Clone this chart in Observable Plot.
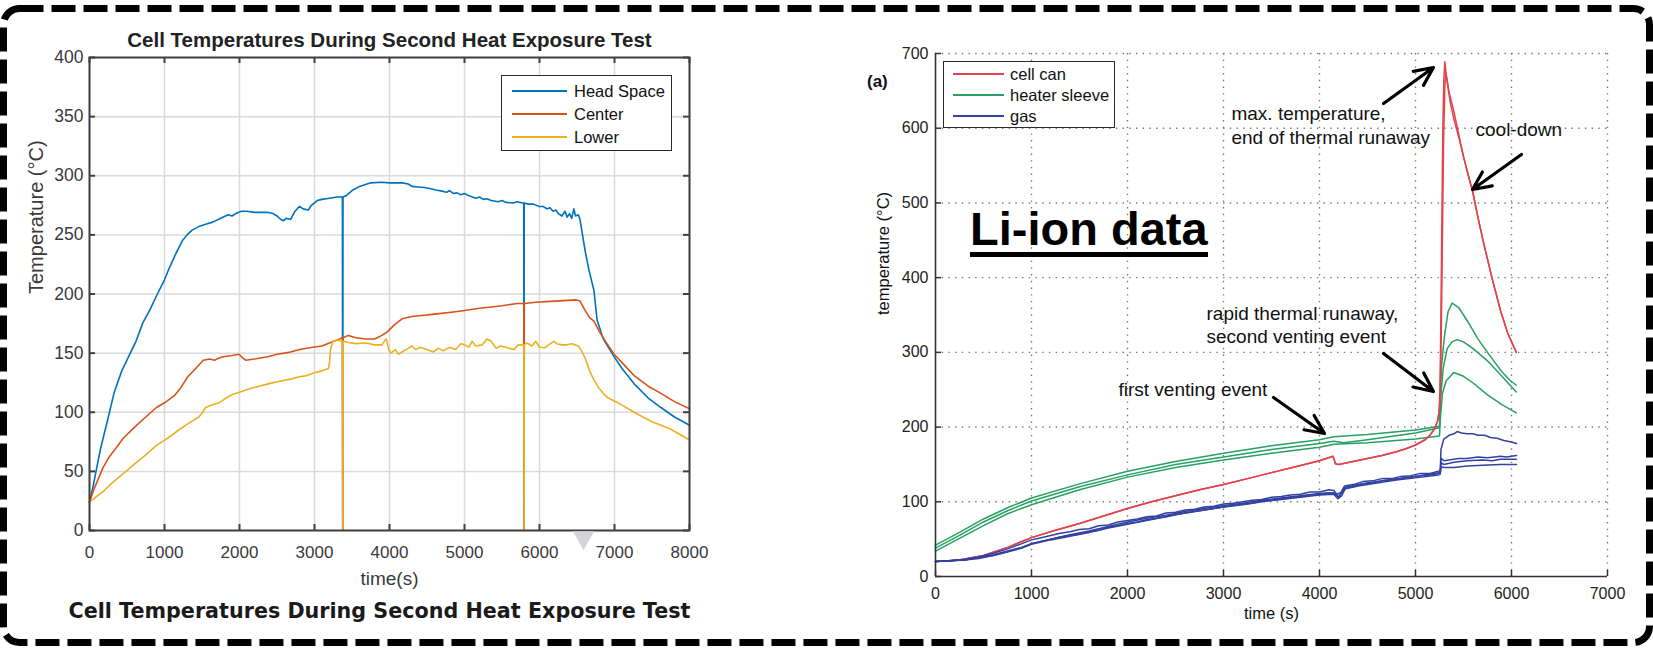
<!DOCTYPE html>
<html><head><meta charset="utf-8">
<script src="https://cdn.jsdelivr.net/npm/d3@7"></script>
<script src="https://cdn.jsdelivr.net/npm/@observablehq/plot@0.6"></script>
<style>
html,body{margin:0;padding:0;background:#fff;}
#wrap{position:relative;width:1653px;height:650px;overflow:hidden;background:#fff;font-family:"Liberation Sans",Arial,sans-serif;}
#wrap > *{position:absolute;}
.legend{background:#fff;box-sizing:border-box;}
.legend .sw{position:absolute;height:0;}
.legend .lb{position:absolute;white-space:nowrap;transform:translateY(-50%);line-height:1;}
</style></head>
<body><div id="wrap"></div>
<script>
// ---------------- LEFT CHART DATA ----------------
const leftTitle = "Cell Temperatures During Second Heat Exposure Test";
const leftCaption = "Cell Temperatures During Second Heat Exposure Test";
const leftXLabel = "time(s)";
const leftYLabel = "Temperature (°C)";
const xTicksL = [0,1000,2000,3000,4000,5000,6000,7000,8000];
const yTicksL = [0,50,100,150,200,250,300,350,400];
const leftNames = ["Head Space","Center","Lower"];
const leftColors = ["#0072BD","#D95319","#EDB120"];
const cursorMarkT = [6587];

const headSpace = [[0,24],[50,38],[90,51],[150,70],[240,93],[330,117],[430,135],[536,149],[620,160],[714,176],[800,186],[905,200],[1000,212],[1071,223],[1150,234],[1238,245],[1300,250],[1369,254],[1458,257],[1550,259],[1650,261],[1750,264],[1850,267],[1900,266],[1950,268],[2024,270],[2100,270],[2200,269],[2300,269],[2381,269],[2450,268],[2500,266],[2550,263],[2589,262],[2620,264],[2680,263],[2740,270],[2798,274],[2850,272],[2917,271],[2960,275],[3036,279],[3100,280],[3200,281],[3300,282],[3363,282],[3372,282],[3376,0],[3380,282],[3420,283],[3512,288],[3600,291],[3750,294],[3900,294.5],[4000,294],[4167,294],[4250,293],[4300,291],[4380,290.5],[4464,290],[4550,289],[4620,288],[4700,287],[4762,286],[4800,287.5],[4850,285],[4900,285.5],[4950,284],[5000,285],[5060,283],[5150,281],[5200,282],[5250,280],[5300,280.5],[5357,279],[5450,278],[5500,279],[5550,277.5],[5650,277],[5700,278],[5774,277],[5790,277],[5793,0],[5796,277],[5850,276],[5920,276],[5998,274],[6050,274],[6100,272],[6140,273],[6180,270],[6220,271],[6250,268],[6300,266],[6340,270],[6369,265],[6400,268],[6430,264],[6458,272],[6480,266],[6518,267],[6540,263],[6560,255],[6607,237],[6660,220],[6726,203],[6768,178],[6850,162],[6994,147],[7100,137],[7262,124],[7450,112],[7619,104],[7800,96],[8000,89]];
const center = [[0,24],[60,35],[179,53],[260,62],[357,70],[450,78],[595,87],[750,96],[893,104],[1000,108],[1131,114],[1220,121],[1310,130],[1400,136],[1518,144],[1600,145],[1667,144],[1730,146],[1786,147],[1900,148],[1994,149],[2040,146],[2083,144],[2200,145],[2381,147],[2500,149],[2600,150],[2679,151],[2800,153],[2976,155],[3100,156],[3214,159],[3300,161],[3370,163],[3374,163],[3377,0],[3381,163],[3452,165],[3550,163],[3690,162],[3800,162],[3869,164],[3950,167],[3988,169],[4050,173],[4107,176],[4167,179],[4300,181],[4464,182],[4600,183],[4881,185],[5000,186],[5200,188],[5357,189],[5500,190],[5700,192],[5774,192],[5791,192],[5794,0],[5797,192],[5952,193],[6200,194],[6488,195],[6540,194],[6600,187],[6667,180],[6726,177],[6800,168],[6900,158],[6994,149],[7100,142],[7262,131],[7450,122],[7619,116],[7800,109],[8000,103]];
const lower = [[0,24],[100,29],[200,34],[298,40],[450,48],[595,56],[750,64],[893,72],[1040,78],[1190,85],[1330,91],[1458,96],[1510,100],[1548,104],[1620,106],[1726,108],[1820,112],[1905,115],[2000,117],[2143,120],[2260,122],[2381,124],[2520,126],[2679,128],[2800,130],[2900,131],[2976,133],[3100,135],[3185,137],[3200,142],[3214,153],[3244,160],[3300,161],[3373,160],[3375,160],[3378,0],[3383,160],[3450,159],[3550,158],[3690,158.6],[3800,157],[3899,157],[3940,161],[3958,162],[3990,153],[4018,150],[4080,153],[4120,149],[4167,151],[4250,154],[4300,156],[4350,153],[4405,155],[4500,153],[4583,151],[4650,154],[4720,152],[4800,155],[4881,153],[4950,158],[5000,157],[5060,155],[5100,160],[5150,156],[5238,157],[5300,162],[5357,160],[5420,154],[5476,156],[5550,155],[5655,153],[5720,157],[5792,157],[5795,0],[5798,157],[5833,158.6],[5900,156],[5950,160],[6000,155],[6071,154.5],[6120,157],[6190,160],[6230,158],[6300,157],[6369,157],[6430,158],[6518,156],[6560,152],[6607,146],[6667,135],[6720,128],[6786,121],[6850,116],[6905,112.6],[6950,111],[7024,108.6],[7100,106],[7262,100],[7380,96],[7500,92],[7620,89],[7738,86],[7880,81],[8000,76.5]];

// ---------------- RIGHT CHART DATA ----------------
const rightXLabel = "time (s)";
const rightYLabel = "temperature (°C)";
const panelTag = "(a)";
const overlayText = "Li-ion data";
const xTicksR = [0,1000,2000,3000,4000,5000,6000,7000];
const yTicksR = [0,100,200,300,400,500,600,700];
const rightGroups = ["cell can","heater sleeve","gas"];
const rightColors = ["#e4434b","#27a062","#3341a0"];

const cellCan1 = [[0,20],[250,22],[500,28],[750,39],[1000,52],[1250,62],[1500,71],[1750,81],[2000,91],[2250,100],[2500,108],[2750,116],[3000,123],[3250,131],[3500,139],[3750,147],[4000,155],[4140,161],[4150,158],[4165,151],[4200,150],[4350,154],[4500,158],[4650,162],[4800,167],[4900,171],[5000,176],[5100,183],[5150,189],[5200,198],[5230,208],[5245,220],[5255,250],[5265,350],[5275,480],[5285,600],[5295,665],[5306,689],[5320,672],[5350,648],[5400,622],[5450,592],[5500,562],[5550,537],[5594,516],[5650,481],[5712,445],[5800,398],[5885,356],[5960,326],[6050,300]];
const cellCan2 = [[0,20],[250,22],[500,28],[750,39],[1000,52],[1250,62],[1500,71],[1750,81],[2000,91],[2250,100],[2500,108],[2750,116],[3000,123],[3250,131],[3500,139],[3750,147],[4000,155],[4140,161],[4150,158],[4165,151],[4200,150],[4350,154],[4500,158],[4650,162],[4800,167],[4900,171],[5000,176],[5100,183],[5150,189],[5200,198],[5230,208],[5245,220],[5255,232],[5268,320],[5280,450],[5292,580],[5305,655],[5316,674],[5330,662],[5360,636],[5400,612],[5450,588],[5500,562],[5550,537],[5594,516],[5650,481],[5712,445],[5800,398],[5885,356],[5960,326],[6050,300]];
const heater1 = [[0,42],[250,59],[500,77],[750,92],[1000,105],[1500,124],[2000,141],[2500,154],[3000,165],[3500,175],[4000,183],[4150,187],[4500,190],[5000,196],[5250,201],[5258,230],[5270,280],[5300,320],[5340,355],[5382,366],[5450,360],[5550,340],[5650,318],[5750,300],[5813,289],[5900,274],[5980,263],[6050,256]];
const heater2 = [[0,38],[250,55],[500,73],[750,88],[1000,101],[1500,120],[2000,136],[2500,150],[3000,160],[3500,170],[4000,178],[4150,181],[4250,179],[4500,183],[5000,192],[5250,199],[5262,240],[5290,280],[5330,305],[5380,314],[5434,317],[5500,314],[5600,305],[5747,289],[5900,268],[6050,247]];
const heater3 = [[0,34],[250,51],[500,68],[750,84],[1000,96],[1500,116],[2000,133],[2500,146],[3000,156],[3500,165],[4000,173],[4150,177],[4500,179],[5000,184],[5250,188],[5258,210],[5280,245],[5320,262],[5399,273],[5500,268],[5600,259],[5750,243],[5900,230],[6050,219]];
const gas1 = [[0,20],[150,21],[300,23],[450,26],[600,31],[750,37],[900,44],[1000,49],[1100,52],[1200,55],[1300,58],[1400,60],[1500,63],[1600,64],[1700,68],[1800,69],[1900,73],[2000,75],[2100,77],[2200,80],[2300,81],[2400,85],[2500,86],[2600,89],[2700,90],[2800,93],[2900,94],[3000,97],[3100,98],[3200,100],[3300,102],[3400,103],[3500,106],[3600,107],[3700,109],[3800,110],[3900,113],[4000,113],[4100,116],[4150,115],[4180,110],[4220,112],[4260,121],[4350,123],[4450,127],[4550,128],[4650,131],[4750,131],[4850,134],[4950,135],[5050,138],[5150,138],[5240,141],[5258,142],[5265,170],[5295,184],[5350,189],[5400,191],[5434,194],[5480,192],[5538,191],[5600,191],[5650,189],[5720,189],[5781,186],[5850,185],[5920,182],[6000,180],[6052,178]];
const gas2 = [[0,20],[150,21],[300,22],[450,24],[600,28],[750,33],[900,39],[1000,44],[1100,47],[1200,50],[1300,53],[1400,55],[1500,57],[1600,60],[1700,62],[1800,66],[1900,68],[2000,71],[2100,73],[2200,76],[2300,78],[2400,80],[2500,83],[2600,85],[2700,87],[2800,89],[2900,91],[3000,93],[3100,95],[3200,97],[3300,98],[3400,101],[3500,102],[3600,104],[3700,106],[3800,107],[3900,109],[4000,110],[4100,112],[4150,110],[4190,104],[4230,108],[4270,118],[4350,120],[4450,124],[4550,125],[4650,128],[4750,129],[4850,131],[4950,133],[5050,135],[5150,136],[5240,138],[5258,139],[5266,158],[5295,155],[5350,156],[5450,158],[5538,158],[5650,160],[5750,159],[5885,161],[5950,160],[6052,162]];
const gas3 = [[0,20],[300,22],[600,29],[900,39],[1000,44],[1200,50],[1400,56],[1600,61],[1800,67],[2000,73],[2200,78],[2400,82],[2600,87],[2800,91],[3000,95],[3200,98],[3400,102],[3600,105],[3800,108],[4000,111],[4150,112],[4200,106],[4260,119],[4400,123],[4600,127],[4800,131],[5000,134],[5240,139],[5258,140],[5266,152],[5295,150],[5400,153],[5538,155],[5700,156],[5800,155],[5885,157],[6052,157]];
const gas4 = [[0,20],[300,22],[600,28],[900,38],[1000,43],[1200,49],[1400,54],[1600,59],[1800,65],[2000,70],[2200,75],[2400,80],[2600,85],[2800,89],[3000,93],[3200,96],[3400,100],[3600,103],[3800,106],[4000,109],[4150,110],[4200,107],[4260,117],[4400,121],[4600,125],[4800,129],[5000,132],[5240,136],[5258,137],[5266,147],[5295,146],[5400,146],[5538,148],[5700,149],[5885,150],[6052,150]];

const annoText = [
  {text:"max. temperature,", t:3083, v:619.7},
  {text:"end of thermal runaway", t:3083, v:587.6},
  {text:"cool-down", t:5625, v:598.3},
  {text:"rapid thermal runaway,", t:2823, v:352},
  {text:"second venting event", t:2823, v:321.2},
  {text:"first venting event", t:1906, v:250.3}
];
const annoArrows = [
  {t1:4667, v1:633.1, t2:5187, v2:681.3},
  {t1:6104, v1:564.8, t2:5594, v2:518},
  {t1:4667, v1:298.5, t2:5187, v2:247.6},
  {t1:3521, v1:239.6, t2:4052, v2:191.4}
];

// ---------------- BUILD ----------------
const wrap = document.getElementById("wrap");
const fmt = d => String(d);

const leftRows = [headSpace, center, lower].flatMap((arr, i) => arr.map(([t, v]) => ({t, v, s: leftNames[i]})));

const LW = 760, LH = 650, LM = {l:89, r:71, t:57, b:120};
const LPW = LW - LM.l - LM.r, LPH = LH - LM.t - LM.b;
const tk = 6;
const leftPlot = Plot.plot({
  width: LW, height: LH,
  marginLeft: LM.l, marginRight: LM.r, marginTop: LM.t, marginBottom: LM.b,
  style: {fontFamily: "'Liberation Sans', Arial, sans-serif", background: "transparent", overflow: "visible"},
  x: {domain: [0, 8000]},
  y: {domain: [0, 400]},
  color: {domain: leftNames, range: leftColors},
  marks: [
    Plot.gridX(xTicksL, {stroke: "#dadada", strokeOpacity: 1, strokeWidth: 1.5}),
    Plot.gridY(yTicksL, {stroke: "#dadada", strokeOpacity: 1, strokeWidth: 1.5}),
    Plot.line(leftRows, {x: "t", y: "v", z: "s", stroke: "s", strokeWidth: 1.6}),
    Plot.frame({stroke: "#404040", strokeWidth: 2}),
    Plot.ruleX(xTicksL, {x: d => d, insetTop: LPH - tk, stroke: "#404040", strokeWidth: 2}),
    Plot.ruleX(xTicksL, {x: d => d, insetBottom: LPH - tk, stroke: "#404040", strokeWidth: 2}),
    Plot.ruleY(yTicksL, {y: d => d, insetRight: LPW - tk, stroke: "#404040", strokeWidth: 2}),
    Plot.ruleY(yTicksL, {y: d => d, insetLeft: LPW - tk, stroke: "#404040", strokeWidth: 2}),
    Plot.axisX(xTicksL, {anchor: "bottom", tickSize: 0, tickPadding: 15, fontSize: 17, fill: "#3a3a3a", label: null, tickFormat: fmt}),
    Plot.axisY(yTicksL, {anchor: "left", tickSize: 0, tickPadding: 6, fontSize: 17.5, fill: "#3a3a3a", label: null, tickFormat: fmt}),
    Plot.text([leftXLabel], {text: d => d, frameAnchor: "bottom", lineAnchor: "middle", dy: 48, fontSize: 19, fill: "#3a3a3a"}),
    Plot.text([leftYLabel], {text: d => d, frameAnchor: "left", lineAnchor: "middle", dx: -53, rotate: -90, fontSize: 20, fill: "#3a3a3a"}),
    Plot.text([leftTitle], {text: d => d, frameAnchor: "top", lineAnchor: "middle", dy: -16.6, fontSize: 20.5, fontWeight: "bold", fill: "#222"}),
    Plot.text([leftCaption], {text: d => d, frameAnchor: "bottom", lineAnchor: "middle", dx: -10, dy: 80.4, fontSize: 20.7, fontWeight: "bold", fontFamily: "'DejaVu Sans', sans-serif", fill: "#1a1a1a"}),
    Plot.dot(cursorMarkT, {x: d => d, frameAnchor: "bottom", dy: 7, symbol: "triangle", rotate: 180, r: 8, fill: "#d3d3da", stroke: "none"})
  ]
});
leftPlot.style.left = "0px"; leftPlot.style.top = "0px";
wrap.appendChild(leftPlot);

const rightSeries = [
  {g: "heater sleeve", id: "h1", d: heater1},
  {g: "heater sleeve", id: "h2", d: heater2},
  {g: "heater sleeve", id: "h3", d: heater3},
  {g: "cell can", id: "c1", d: cellCan1},
  {g: "cell can", id: "c2", d: cellCan2},
  {g: "gas", id: "g1", d: gas1},
  {g: "gas", id: "g2", d: gas2},
  {g: "gas", id: "g3", d: gas3},
  {g: "gas", id: "g4", d: gas4}
];
const rightRows = rightSeries.flatMap(s => s.d.map(([t, v]) => ({t, v, g: s.g, id: s.id})));

const RX = 760, RW = 893, RH = 650, RM = {l:175, r:46, t:53, b:74};
const RPW = RW - RM.l - RM.r, RPH = RH - RM.t - RM.b;
const rightPlot = Plot.plot({
  width: RW, height: RH,
  marginLeft: RM.l, marginRight: RM.r, marginTop: RM.t, marginBottom: RM.b,
  style: {fontFamily: "'Liberation Sans', Arial, sans-serif", background: "transparent", overflow: "visible"},
  x: {domain: [0, 7000]},
  y: {domain: [0, 700]},
  color: {domain: rightGroups, range: rightColors},
  marks: [
    Plot.gridX(xTicksR.slice(1), {stroke: "#777", strokeOpacity: 1, strokeWidth: 1.4, strokeDasharray: "1.4,5.3"}),
    Plot.gridY(yTicksR.slice(1), {stroke: "#777", strokeOpacity: 1, strokeWidth: 1.4, strokeDasharray: "1.4,5.3"}),
    Plot.line(rightRows, {x: "t", y: "v", z: "id", stroke: "g", strokeWidth: 1.5}),
    Plot.ruleX([0], {stroke: "#333", strokeWidth: 1.6}),
    Plot.ruleY([0], {stroke: "#333", strokeWidth: 1.6}),
    Plot.ruleX(xTicksR, {x: d => d, insetTop: RPH - tk, stroke: "#333", strokeWidth: 1.5}),
    Plot.ruleY(yTicksR, {y: d => d, insetRight: RPW - tk, stroke: "#333", strokeWidth: 1.5}),
    Plot.axisX(xTicksR, {anchor: "bottom", tickSize: 0, tickPadding: 11, fontSize: 16, fill: "#222", label: null, tickFormat: fmt}),
    Plot.axisY(yTicksR, {anchor: "left", tickSize: 0, tickPadding: 7, fontSize: 16, fill: "#222", label: null, tickFormat: fmt}),
    Plot.text([rightXLabel], {text: d => d, frameAnchor: "bottom", lineAnchor: "middle", dy: 37, fontSize: 16.5, fill: "#111"}),
    Plot.text([rightYLabel], {text: d => d, frameAnchor: "left", lineAnchor: "middle", dx: -52, rotate: -90, fontSize: 16.5, fill: "#111"}),
    Plot.text(annoText, {x: "t", y: "v", text: "text", textAnchor: "start", lineAnchor: "middle", fontSize: 19, fill: "#111"}),
    Plot.arrow(annoArrows, {x1: "t1", y1: "v1", x2: "t2", y2: "v2", stroke: "#000", strokeWidth: 3.2, headLength: 15, headAngle: 50})
  ]
});
rightPlot.style.left = RX + "px"; rightPlot.style.top = "0px";
wrap.appendChild(rightPlot);

// legends (HTML)
function makeLegend(x, y, w, h, names, colors, rows, sw0, sw1, tx, fs) {
  const box = document.createElement("div");
  box.className = "legend";
  Object.assign(box.style, {left: x + "px", top: y + "px", width: w + "px", height: h + "px", border: "1.5px solid #2a2a2a"});
  names.forEach((n, i) => {
    const sw = document.createElement("div");
    sw.className = "sw";
    Object.assign(sw.style, {left: sw0 + "px", width: (sw1 - sw0) + "px", top: (rows[i] - 1) + "px", borderTop: "2px solid " + colors[i]});
    box.appendChild(sw);
    const lb = document.createElement("div");
    lb.className = "lb";
    lb.textContent = n;
    Object.assign(lb.style, {left: tx + "px", top: rows[i] + "px", fontSize: fs + "px", color: "#111"});
    box.appendChild(lb);
  });
  wrap.appendChild(box);
}
makeLegend(501, 75, 171, 76, leftNames, leftColors, [15, 38, 61], 10, 65, 72, 16.5);
makeLegend(943, 61, 172, 67, rightGroups, rightColors, [12, 33, 54], 9, 60, 66, 16.5);

// panel tag and overlay title
const tag = document.createElement("div");
tag.textContent = panelTag;
Object.assign(tag.style, {left: "867px", top: "72.6px", fontSize: "17px", lineHeight: "17px", fontWeight: "bold", color: "#111"});
wrap.appendChild(tag);

const li = document.createElement("div");
li.textContent = overlayText;
Object.assign(li.style, {left: "970px", top: "205px", fontSize: "47px", lineHeight: "47px", fontWeight: "bold", color: "#000", borderBottom: "5px solid #000", whiteSpace: "nowrap"});
wrap.appendChild(li);

// dashed rounded border
const border = d3.create("svg").attr("width", 1653).attr("height", 650)
  .style("left", "0px").style("top", "0px").style("pointer-events", "none");
border.append("rect").attr("x", 3.5).attr("y", 8.5).attr("width", 1646).attr("height", 634)
  .attr("rx", 16).attr("fill", "none").attr("stroke", "#000").attr("stroke-width", 7).attr("stroke-dasharray", "24 8");
wrap.appendChild(border.node());
</script></body></html>
